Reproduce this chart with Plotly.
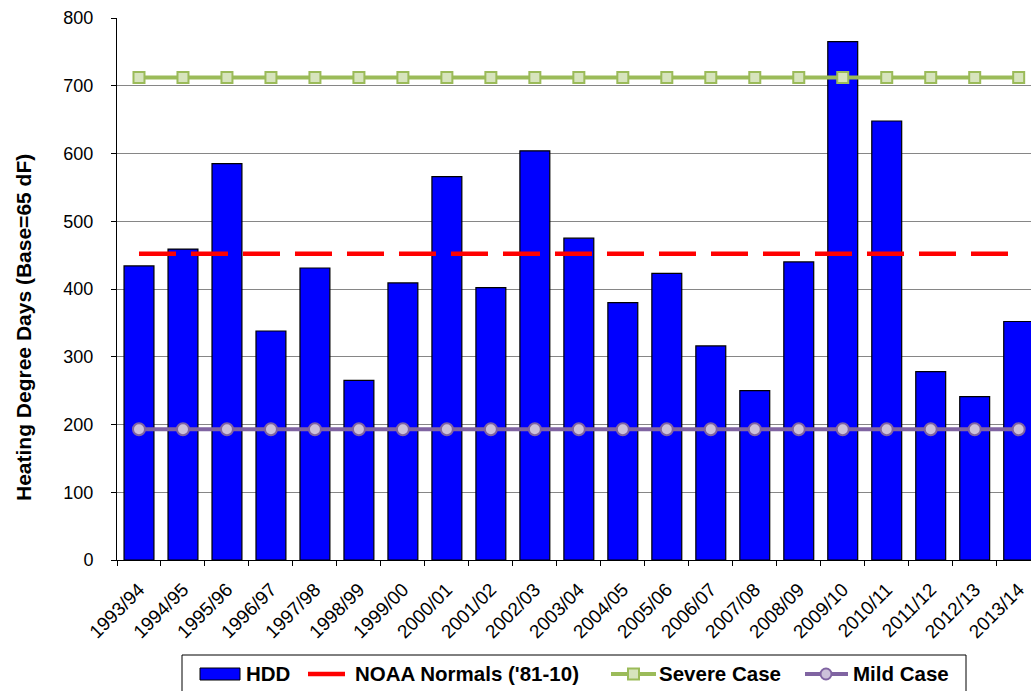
import plotly.graph_objects as go

# Heating season labels and observed heating degree days
seasons = ["1993/94", "1994/95", "1995/96", "1996/97", "1997/98", "1998/99", "1999/00",
           "2000/01", "2001/02", "2002/03", "2003/04", "2004/05", "2005/06", "2006/07",
           "2007/08", "2008/09", "2009/10", "2010/11", "2011/12", "2012/13", "2013/14"]
hdd = [434, 459, 585, 338, 431, 265, 409, 566, 402, 604, 475, 380, 423, 316,
       250, 440, 765, 648, 278, 241, 352]

# Reference levels (constant across all seasons)
noaa_normal = 452
severe_case = 712
mild_case = 193

noaa_series = [noaa_normal] * len(seasons)
severe_series = [severe_case] * len(seasons)
mild_series = [mild_case] * len(seasons)

y_ticks = [0, 100, 200, 300, 400, 500, 600, 700, 800]

FONT = "Liberation Sans, Arial, sans-serif"
W, H = 1031, 691
ML, MR, MT, MB = 117, 0, 18, 131
PW, PH = W - ML - MR, H - MT - MB

BLUE = "#0000FF"
RED = "#FF0000"
GREEN = "#9BBB59"
GREEN_FILL = "#D7E4BD"
PURPLE = "#8064A2"
PURPLE_FILL = "#CCC1DA"

fig = go.Figure()

fig.add_trace(go.Bar(
    x=seasons, y=hdd, name="HDD",
    marker=dict(color=BLUE, line=dict(color="#000000", width=1.2)),
    width=0.68, showlegend=False,
))
fig.add_trace(go.Scatter(
    x=seasons, y=noaa_series, name="NOAA Normals ('81-10)", mode="lines",
    line=dict(color=RED, width=4.5, dash="37px,15px"), showlegend=False,
))
fig.add_trace(go.Scatter(
    x=seasons, y=severe_series, name="Severe Case", mode="lines+markers",
    line=dict(color=GREEN, width=4),
    marker=dict(symbol="square", size=11, color=GREEN_FILL, line=dict(color=GREEN, width=2)),
    showlegend=False,
))
fig.add_trace(go.Scatter(
    x=seasons, y=mild_series, name="Mild Case", mode="lines+markers",
    line=dict(color=PURPLE, width=4),
    marker=dict(symbol="circle", size=12, color=PURPLE_FILL, line=dict(color=PURPLE, width=2)),
    showlegend=False,
))


def px_x(p):
    return (p - ML) / PW


def px_y(p):
    return (H - MB - p) / PH


# Legend drawn as a boxed row beneath the axis
shapes = []
annotations = []
shapes.append(dict(type="rect", xref="paper", yref="paper",
                   x0=px_x(182), x1=px_x(966), y0=px_y(700), y1=px_y(655),
                   line=dict(color="#000000", width=1), fillcolor="rgba(0,0,0,0)", layer="above"))
ly = 674
shapes.append(dict(type="rect", xref="paper", yref="paper",
                   x0=px_x(200), x1=px_x(240), y0=px_y(680), y1=px_y(668),
                   line=dict(color="#000000", width=1), fillcolor=BLUE))
shapes.append(dict(type="line", xref="paper", yref="paper",
                   x0=px_x(308), x1=px_x(345), y0=px_y(ly), y1=px_y(ly),
                   line=dict(color=RED, width=4.5)))
shapes.append(dict(type="line", xref="paper", yref="paper",
                   x0=px_x(611), x1=px_x(656), y0=px_y(ly), y1=px_y(ly),
                   line=dict(color=GREEN, width=4)))
shapes.append(dict(type="rect", xref="paper", yref="paper",
                   x0=px_x(628), x1=px_x(639), y0=px_y(679.5), y1=px_y(668.5),
                   line=dict(color=GREEN, width=2), fillcolor=GREEN_FILL))
shapes.append(dict(type="line", xref="paper", yref="paper",
                   x0=px_x(805), x1=px_x(848), y0=px_y(ly), y1=px_y(ly),
                   line=dict(color=PURPLE, width=4)))
shapes.append(dict(type="circle", xref="paper", yref="paper",
                   x0=px_x(820.5), x1=px_x(831.5), y0=px_y(679.5), y1=px_y(668.5),
                   line=dict(color=PURPLE, width=2), fillcolor=PURPLE_FILL))

for label, xpos in [("HDD", 244), ("NOAA Normals ('81-10)", 353),
                    ("Severe Case", 657), ("Mild Case", 851)]:
    annotations.append(dict(text="<b>%s</b>" % label, xref="paper", yref="paper",
                            x=px_x(xpos), y=px_y(673), xanchor="left", yanchor="middle",
                            showarrow=False, font=dict(family=FONT, size=20.5, color="#000000")))

annotations.append(dict(text="<b>Heating Degree Days (Base=65 dF)</b>", xref="paper", yref="paper",
                        x=px_x(23), y=px_y(328), xanchor="center", yanchor="middle",
                        textangle=-90, showarrow=False,
                        font=dict(family=FONT, size=21, color="#000000")))

fig.update_layout(
    width=W, height=H,
    margin=dict(l=ML, r=MR, t=MT, b=MB, pad=0, autoexpand=False),
    paper_bgcolor="#FFFFFF", plot_bgcolor="#FFFFFF",
    font=dict(family=FONT, color="#000000"),
    bargap=0.32,
    shapes=shapes, annotations=annotations,
    xaxis=dict(
        type="category", range=[-0.5, 20.28],
        showline=True, linecolor="#000000", linewidth=1,
        ticks="outside", ticklen=5, tickcolor="#000000", tickson="boundaries",
        tickangle=-45, tickfont=dict(family=FONT, size=19, color="#000000"),
        ticklabelstandoff=10,
        showgrid=False, zeroline=False,
    ),
    yaxis=dict(
        range=[0, 800], tickvals=y_ticks,
        showline=True, linecolor="#000000", linewidth=1,
        ticks="outside", ticklen=5, tickcolor="#000000",
        tickfont=dict(family=FONT, size=18, color="#000000"),
        ticklabelstandoff=14,
        showgrid=True, gridcolor="#868686", gridwidth=1, zeroline=False,
    ),
)

fig.write_html("out.html")
